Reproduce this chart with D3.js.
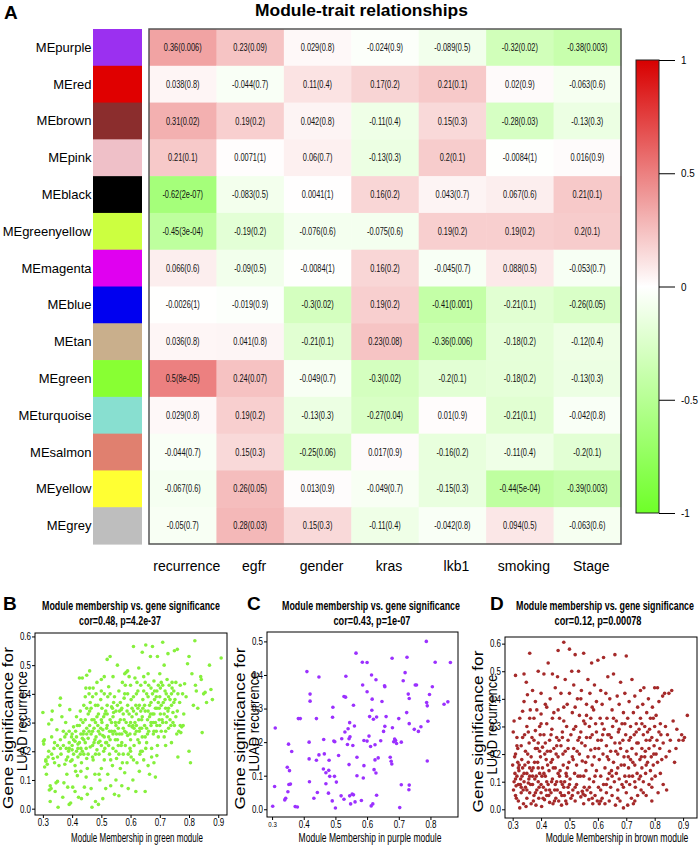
<!DOCTYPE html>
<html><head><meta charset="utf-8">
<script src="https://cdn.jsdelivr.net/npm/d3@7"></script>
<style>body{margin:0;background:#fff}</style>
</head><body>
<svg id="chart" width="700" height="850"></svg>
<script>
// ---------------- DATA ----------------
const modules = ["MEpurple","MEred","MEbrown","MEpink","MEblack","MEgreenyellow","MEmagenta","MEblue","MEtan","MEgreen","MEturquoise","MEsalmon","MEyellow","MEgrey"];
const moduleColors = ["#9B30F0","#E00000","#8B2D2D","#EFC0C8","#000000","#CCFF40","#E000F0","#0000F0","#C9AF8C","#88FF33","#88DFD0","#E0806F","#FFFF33","#BEBEBE"];
const traits = ["recurrence","egfr","gender","kras","lkb1","smoking","Stage"];
const corValues = [
 ["0.36","0.23","0.029","-0.024","-0.089","-0.32","-0.38"],
 ["0.038","-0.044","0.11","0.17","0.21","0.02","-0.063"],
 ["0.31","0.19","0.042","-0.11","0.15","-0.28","-0.13"],
 ["0.21","0.0071","0.06","-0.13","0.2","-0.0084","0.016"],
 ["-0.62","-0.083","0.0041","0.16","0.043","0.067","0.21"],
 ["-0.45","-0.19","-0.076","-0.075","0.19","0.19","0.2"],
 ["0.066","-0.09","-0.0084","0.16","-0.045","0.088","-0.053"],
 ["-0.0026","-0.019","-0.3","0.19","-0.41","-0.21","-0.26"],
 ["0.036","0.041","-0.21","0.23","-0.36","-0.18","-0.12"],
 ["0.5","0.24","-0.049","-0.3","-0.2","-0.18","-0.13"],
 ["0.029","0.19","-0.13","-0.27","0.01","-0.21","-0.042"],
 ["-0.044","0.15","-0.25","0.017","-0.16","-0.11","-0.2"],
 ["-0.067","0.26","0.013","-0.049","-0.15","-0.44","-0.39"],
 ["-0.05","0.28","0.15","-0.11","-0.042","0.094","-0.063"]
];
const pValues = [
 ["0.006","0.09","0.8","0.9","0.5","0.02","0.003"],
 ["0.8","0.7","0.4","0.2","0.1","0.9","0.6"],
 ["0.02","0.2","0.8","0.4","0.3","0.03","0.3"],
 ["0.1","1","0.7","0.3","0.1","1","0.9"],
 ["2e-07","0.5","1","0.2","0.7","0.6","0.1"],
 ["3e-04","0.2","0.6","0.6","0.2","0.2","0.1"],
 ["0.6","0.5","1","0.2","0.7","0.5","0.7"],
 ["1","0.9","0.02","0.2","0.001","0.1","0.05"],
 ["0.8","0.8","0.1","0.08","0.006","0.2","0.4"],
 ["8e-05","0.07","0.7","0.02","0.1","0.2","0.3"],
 ["0.8","0.2","0.3","0.04","0.9","0.1","0.8"],
 ["0.7","0.3","0.06","0.9","0.2","0.4","0.1"],
 ["0.6","0.05","0.9","0.7","0.3","5e-04","0.003"],
 ["0.7","0.03","0.3","0.4","0.8","0.5","0.6"]
];
const colorbarTicks = [-1,-0.5,0,0.5,1];

const xTicksB = [0.3,0.4,0.5,0.6,0.7,0.8,0.9];
const yTicksB = [0,0.1,0.2,0.3,0.4,0.5,0.6];
const xTicksC = [0.3,0.4,0.5,0.6,0.7,0.8];
const yTicksC = [0,0.1,0.2,0.3,0.4,0.5];
const xTicksD = [0.3,0.4,0.5,0.6,0.7,0.8,0.9];
const yTicksD = [0,0.1,0.2,0.3,0.4,0.5,0.6];

const greenModulePoints = [
[.30,.335],[.302,.235],[.303,.225],[.305,.24],[.306,.145],[.31,.165],[.31,.17],[.312,.12],[.315,.155],[.318,.18],[.32,.295],[.322,.065],[.325,.025],[.325,.08],[.328,.07],[.33,.19],[.33,.31],[.332,.34],[.335,.175],[.338,.21],[.34,.23],[.342,.06],[.345,.09],[.348,.275],[.35,.18],[.35,.095],[.352,.005],[.355,.15],[.358,.36],[.36,.385],[.36,.21],[.362,.19],
[.365,.32],[.368,.04],[.37,.27],[.372,.09],[.375,.155],[.375,.25],[.378,.30],[.38,.21],[.382,.12],[.385,.075],[.385,.18],[.388,.20],[.39,.015],[.39,.23],[.392,.345],[.395,.02],[.395,.165],[.398,.25],[.40,.22],[.40,.205],[.402,.075],[.405,.285],[.405,.19],
[.41,.235],[.41,.06],[.412,.27],[.415,.20],[.415,.32],[.418,.115],[.42,.18],[.42,.225],[.422,.04],[.425,.455],[.425,.23],[.428,.34],[.43,.26],[.43,.13],[.432,.035],[.435,.455],[.435,.20],[.437,.30],[.44,.27],[.44,.36],[.442,.075],[.445,.23],[.445,.39],[.447,.42],[.448,.11],[.45,.26],[.45,.175],[.45,.465],[.452,.05],
[.455,.33],[.455,.245],[.458,.40],[.46,.48],[.46,.29],[.462,.215],[.465,.07],[.465,.35],[.468,.005],[.47,.27],[.47,.18],[.472,.42],[.475,.31],[.475,.23],[.478,.12],[.48,.025],[.48,.36],[.482,.25],[.485,.205],[.485,.44],[.488,.29],[.49,.015],[.49,.33],[.492,.19],[.495,.26],[.495,.10],[.498,.38],[.50,.22],[.50,.14],[.50,.45],
[.502,.30],[.505,.035],[.505,.255],[.508,.20],[.51,.40],[.51,.17],[.512,.33],[.515,.07],[.515,.23],[.518,.28],[.52,.52],[.52,.36],[.522,.12],[.525,.25],[.525,.425],[.528,.19],[.53,.53],[.53,.31],[.532,.08],[.535,.27],[.535,.355],[.538,.15],[.54,.21],[.54,.46],[.542,.335],[.545,.05],[.545,.39],[.548,.24],[.55,.10],[.55,.29],
[.552,.175],[.555,.36],[.555,.50],[.558,.22],[.56,.41],[.56,.045],[.562,.26],[.565,.31],[.565,.14],[.568,.345],[.57,.23],[.57,.08],[.572,.44],[.575,.28],[.575,.19],[.578,.385],[.58,.47],[.58,.125],[.582,.22],[.585,.30],[.585,.475],[.588,.16],[.59,.255],[.59,.40],[.592,.07],[.595,.33],[.595,.46],[.598,.21],[.60,.43],[.60,.24],
[.602,.18],[.605,.35],[.605,.285],[.608,.10],[.61,.565],[.61,.39],[.612,.22],[.615,.30],[.615,.455],[.618,.06],[.62,.27],[.62,.33],[.622,.16],[.625,.41],[.625,.24],[.628,.49],[.63,.36],[.63,.13],[.632,.28],[.635,.43],[.635,.20],[.638,.31],[.64,.545],[.64,.25],[.642,.38],[.645,.17],[.645,.46],[.648,.29],[.65,.06],[.65,.34],
[.652,.57],[.655,.40],[.655,.23],[.658,.31],[.66,.15],[.66,.47],[.662,.27],[.665,.36],[.665,.12],[.668,.53],[.67,.29],[.67,.42],[.672,.21],[.675,.565],[.675,.33],[.678,.26],[.68,.445],[.68,.16],[.682,.38],[.685,.30],[.685,.11],[.688,.27],[.69,.185],[.69,.35],[.692,.53],[.695,.43],[.695,.25],[.698,.31],[.70,.39],[.70,.47],
[.702,.33],[.705,.27],[.705,.44],[.71,.58],[.71,.30],[.712,.37],[.715,.25],[.715,.50],[.718,.41],[.72,.22],[.72,.35],[.722,.30],[.725,.45],[.728,.54],[.73,.39],[.73,.28],[.732,.43],[.735,.31],[.74,.36],[.74,.23],[.742,.42],[.745,.335],[.748,.41],[.75,.55],[.75,.29],
[.752,.38],[.755,.44],[.758,.26],[.76,.555],[.76,.34],[.762,.18],[.765,.27],[.768,.37],[.77,.43],[.77,.29],[.772,.265],[.775,.285],[.778,.40],[.78,.29],[.782,.33],[.785,.435],[.79,.39],[.795,.505],[.80,.20],[.80,.53],
[.805,.16],[.81,.47],[.815,.36],[.82,.585],[.822,.43],[.825,.41],[.83,.35],[.84,.46],[.842,.45],[.845,.265],[.85,.40],[.855,.405],[.86,.37],[.87,.50],[.875,.415],[.88,.38],[.91,.525],
[.415,.25],[.425,.29],[.435,.245],[.445,.31],[.455,.19],[.465,.26],[.475,.28],[.485,.32],[.495,.235],[.505,.275],[.515,.34],[.525,.22],[.535,.30],[.545,.27],[.555,.24],[.565,.37],[.575,.33],[.585,.265],[.595,.29],[.605,.32],[.615,.26],[.625,.35],[.635,.34],[.645,.41],[.655,.28],[.665,.32],[.675,.40],[.685,.35],[.695,.37],[.705,.36],[.715,.33],[.725,.32],[.735,.38],[.745,.30],[.755,.32],
[.43,.21],[.44,.19],[.45,.28],[.46,.34],[.47,.22],[.48,.30],[.49,.27],[.50,.31],[.51,.25],[.52,.29],[.53,.24],[.54,.32],[.55,.20],[.56,.30],[.57,.35],[.58,.27],[.59,.36],[.60,.30],[.61,.34],[.62,.29],[.63,.27],[.64,.32],[.65,.44],[.66,.34],[.67,.37],[.68,.27],[.69,.41],[.70,.29],
[.38,.26],[.39,.21],[.40,.17],[.41,.15],[.42,.21],[.43,.31],[.44,.24],[.45,.35],[.46,.42],[.47,.39],[.48,.19],[.49,.23],[.50,.41],[.51,.46],[.52,.33],[.53,.40],[.54,.26],[.55,.34],[.56,.19],[.57,.26],[.58,.40],[.59,.48],[.60,.20],[.61,.17],[.62,.40],[.63,.23],[.64,.20],[.65,.25],[.66,.39],[.67,.30],[.68,.33],[.69,.29],[.71,.43],[.72,.27],[.73,.35],[.74,.40],
[.405,.24],[.418,.29],[.428,.19],[.438,.26],[.448,.21],[.458,.27],[.468,.31],[.478,.24],[.488,.36],[.498,.28],[.508,.32],[.518,.23],[.528,.27],[.538,.35],[.548,.30],[.558,.28],[.568,.22],[.578,.31],[.588,.34],[.598,.26],[.608,.29],[.618,.36],[.628,.31],[.638,.28],[.648,.36],[.658,.26],[.668,.33],[.678,.30],[.688,.39],[.698,.35],[.708,.31],[.718,.38],[.728,.34],[.738,.29],[.748,.37],
[.412,.13],[.432,.16],[.452,.14],[.472,.17],[.492,.12],[.512,.21],[.532,.17],[.552,.26],[.572,.16],[.592,.19],[.612,.28],[.632,.19],[.652,.21],[.672,.18],[.692,.22],
[.462,.37],[.482,.40],[.502,.35],[.522,.39],[.542,.37],[.562,.34],[.582,.43],[.602,.38],[.622,.44],[.642,.35],[.662,.43],[.682,.41],[.702,.42],[.722,.40],[.742,.44],[.762,.40],
[.36,.24],[.37,.22],[.38,.17],[.39,.27],[.40,.26],[.35,.22],[.34,.16],[.33,.25],[.32,.20]
];

const purpleModulePoints = [
[.787,.50],[.565,.465],[.726,.453],[.679,.45],[.585,.438],[.60,.437],[.815,.438],[.863,.437],[.41,.41],[.72,.407],[.614,.40],[.448,.394],[.533,.396],[.628,.386],[.714,.383],[.586,.37],[.655,.368],[.656,.365],[.752,.37],[.756,.37],[.806,.365],[.60,.35],[.73,.343],[.42,.343],[.527,.336],[.532,.334],[.616,.328],[.733,.33],[.797,.342],[.42,.322],[.647,.321],[.557,.31],[.492,.304],[.855,.32],[.843,.313],[.788,.318],[.79,.308],[.725,.288],[.615,.295],[.63,.275],[.608,.276],[.66,.276],[.383,.27],[.389,.27],[.44,.27],[.491,.274],[.62,.268],[.70,.27],[.792,.262],[.31,.242],[.54,.24],[.56,.248],[.68,.243],[.656,.247],[.749,.238],[.733,.255],[.77,.246],[.762,.232],[.545,.258],[.53,.23],[.652,.232],[.417,.20],[.463,.208],[.52,.21],[.543,.21],[.546,.216],[.59,.205],[.606,.218],[.60,.203],[.643,.204],[.687,.209],[.69,.205],[.693,.196],[.684,.201],[.708,.20],[.352,.194],[.495,.203],[.498,.201],[.538,.193],[.555,.19],[.611,.187],[.625,.192],[.362,.172],[.465,.165],[.448,.162],[.51,.16],[.568,.155],[.673,.155],[.635,.153],[.417,.15],[.44,.146],[.48,.146],[.625,.147],[.678,.135],[.79,.144],[.348,.125],[.355,.115],[.462,.12],[.47,.109],[.479,.116],[.543,.133],[.59,.13],[.622,.118],[.628,.108],[.676,.143],[.482,.098],[.497,.098],[.568,.10],[.588,.093],[.47,.076],[.418,.082],[.503,.081],[.308,.068],[.353,.074],[.358,.075],[.35,.052],[.443,.05],[.478,.048],[.708,.073],[.733,.072],[.732,.058],[.343,.033],[.34,.028],[.432,.033],[.518,.04],[.527,.03],[.545,.04],[.553,.045],[.557,.043],[.49,.025],[.582,.026],[.618,.016],[.613,.01],[.63,.042],[.548,.016],[.562,.022],[.302,.009],[.373,.008],[.38,.007],[.50,.004],[.703,.005]
];

const brownModulePoints = [
[.30,.16],[.302,.28],[.305,.32],[.305,.10],[.308,.13],[.31,.485],[.31,.20],[.31,.05],[.312,.085],[.315,.12],[.315,.26],[.318,.17],[.32,.03],[.32,.09],[.322,.14],[.325,.33],[.325,.005],[.328,.11],[.33,.06],[.33,.23],[.332,.18],[.335,.15],[.335,.355],[.338,.02],[.34,.49],[.34,.10],[.342,.27],[.345,.08],[.345,.21],[.348,.46],[.35,.04],[.35,.13],[.35,.30],[.352,.415],[.355,.095],[.355,.17],[.358,.24],[.36,.565],[.36,.06],[.36,.12],[.362,.36],
[.365,.02],[.365,.19],[.368,.26],[.37,.09],[.37,.43],[.372,.15],[.375,.05],[.375,.33],[.378,.11],[.38,.22],[.38,.285],[.382,.015],[.385,.07],[.385,.36],[.388,.17],[.39,.50],[.39,.10],[.39,.24],[.392,.04],[.395,.13],[.395,.30],[.398,.19],[.40,.06],[.40,.345],[.40,.42],
[.402,.01],[.405,.15],[.405,.225],[.408,.08],[.41,.49],[.41,.27],[.412,.035],[.415,.12],[.415,.38],[.418,.18],[.42,.05],[.42,.31],[.422,.21],[.425,.53],[.425,.09],[.428,.14],[.43,.025],[.43,.25],[.432,.40],[.435,.06],[.435,.17],[.438,.29],[.44,.11],[.44,.49],[.442,.02],[.445,.22],[.445,.35],[.448,.07],[.45,.15],[.45,.44],
[.452,.04],[.455,.26],[.455,.10],[.458,.48],[.46,.575],[.46,.19],[.462,.03],[.465,.33],[.465,.12],[.468,.06],[.47,.42],[.47,.23],[.472,.015],[.475,.28],[.475,.09],[.478,.16],[.48,.605],[.48,.37],[.482,.05],[.485,.21],[.485,.47],[.488,.13],[.49,.30],[.49,.02],[.492,.38],[.495,.08],[.495,.25],[.498,.17],[.50,.58],[.50,.42],
[.502,.11],[.505,.27],[.505,.04],[.508,.50],[.51,.19],[.51,.35],[.512,.07],[.515,.22],[.515,.45],[.518,.13],[.52,.56],[.52,.03],[.522,.30],[.525,.16],[.525,.09],[.528,.40],[.53,.25],[.53,.06],[.532,.50],[.535,.20],[.535,.34],[.538,.12],[.54,.045],[.54,.28],[.542,.43],[.545,.065],[.545,.175],[.548,.055],[.55,.565],[.55,.32],
[.552,.08],[.555,.23],[.555,.05],[.558,.14],[.56,.38],[.56,.26],[.562,.07],[.565,.19],[.565,.47],[.568,.035],[.57,.30],[.57,.11],[.572,.42],[.575,.06],[.575,.215],[.578,.53],[.58,.16],[.58,.27],[.582,.02],[.585,.36],[.585,.10],[.588,.45],[.59,.22],[.59,.05],[.592,.31],[.595,.14],[.595,.39],[.598,.03],[.60,.25],[.60,.54],
[.602,.08],[.605,.18],[.605,.02],[.608,.33],[.61,.43],[.61,.12],[.612,.25],[.615,.04],[.615,.38],[.618,.20],[.62,.55],[.62,.09],[.622,.29],[.625,.15],[.625,.02],[.628,.42],[.63,.23],[.63,.06],[.632,.33],[.635,.11],[.635,.48],[.638,.18],[.64,.03],[.64,.27],[.642,.40],[.645,.08],[.645,.21],[.648,.14],[.65,.36],[.65,.05],
[.652,.30],[.655,.17],[.655,.49],[.658,.10],[.66,.56],[.66,.24],[.662,.015],[.665,.32],[.665,.13],[.668,.41],[.67,.07],[.67,.20],[.672,.28],[.675,.11],[.675,.38],[.678,.03],[.68,.46],[.68,.22],[.682,.16],[.685,.31],[.685,.09],[.688,.25],[.69,.005],[.69,.35],[.692,.19],[.695,.12],[.695,.42],[.698,.27],[.70,.555],[.70,.06],
[.702,.21],[.705,.33],[.705,.015],[.708,.15],[.71,.39],[.71,.25],[.712,.09],[.715,.18],[.715,.30],[.718,.04],[.72,.47],[.72,.22],[.722,.12],[.725,.35],[.725,.02],[.728,.27],[.73,.16],[.73,.41],[.732,.08],[.735,.31],[.735,.20],[.738,.13],[.74,.37],[.74,.05],[.742,.24],[.745,.29],[.745,.11],[.748,.18],[.75,.43],[.75,.33],
[.752,.07],[.755,.22],[.755,.15],[.758,.38],[.76,.27],[.76,.10],[.762,.44],[.765,.19],[.765,.30],[.768,.13],[.77,.25],[.77,.05],[.772,.35],[.775,.17],[.778,.40],[.78,.22],[.78,.09],[.782,.29],[.785,.14],[.785,.33],[.788,.19],[.79,.26],[.79,.08],[.792,.37],[.795,.16],[.798,.23],[.80,.30],[.80,.44],
[.802,.12],[.805,.20],[.805,.34],[.808,.25],[.81,.44],[.81,.17],[.812,.06],[.815,.28],[.815,.39],[.818,.22],[.82,.13],[.82,.31],[.822,.27],[.825,.18],[.828,.41],[.83,.24],[.83,.09],[.835,.42],[.838,.30],[.84,.19],[.842,.07],[.845,.27],[.85,.42],[.852,.21],[.855,.25],[.86,.43],[.865,.32],[.87,.17],[.875,.22],[.878,.29],[.885,.25],[.895,.27],[.90,.25],[.905,.26],[.915,.34],
[.303,.07],[.307,.19],[.313,.04],[.318,.22],[.323,.16],[.327,.09],[.333,.12],[.337,.07],[.343,.16],[.347,.01],[.353,.20],[.357,.11],[.363,.09],[.367,.14],[.373,.03],[.377,.17],[.383,.12],[.387,.22],[.393,.08],[.397,.27],[.403,.12],[.407,.04],[.413,.20],[.417,.07],[.423,.16],[.427,.05],[.433,.21],[.437,.10],[.443,.15],[.447,.03],[.453,.20],[.457,.07],[.463,.25],[.467,.14],[.473,.05],[.477,.20],[.483,.10],[.487,.03],[.493,.15],[.497,.06],
[.513,.18],[.527,.21],[.543,.24],[.557,.17],[.573,.26],[.587,.19],[.603,.22],[.617,.27],[.633,.19],[.647,.26],[.663,.21],[.677,.24],[.693,.16],[.707,.19],[.723,.17],[.737,.24],[.753,.19],[.767,.21],[.783,.25],[.797,.20],[.52,.08],[.55,.12],[.58,.04],[.61,.07],[.64,.13],[.67,.04],[.70,.10],[.73,.03],[.76,.06],[.79,.11],
[.31,.11],[.32,.15],[.33,.08],[.34,.13],[.35,.07],[.36,.15],[.37,.12],[.38,.06],[.39,.15],[.40,.09],[.41,.13],[.42,.10],[.43,.07],[.44,.18],[.45,.09],[.46,.13],[.47,.10],[.48,.08],[.49,.12],[.50,.09],
[.315,.23],[.335,.26],[.355,.28],[.375,.25],[.395,.21],[.415,.24],[.435,.27],[.455,.23],[.475,.26],[.495,.22],
[.51,.05],[.53,.12],[.55,.02],[.57,.08],[.59,.12],[.61,.03],[.63,.09],[.65,.12],[.67,.15],[.69,.08],[.71,.12],[.73,.10],[.75,.12],[.77,.16],[.79,.03],
[.515,.29],[.535,.26],[.555,.31],[.575,.33],[.595,.28],[.615,.31],[.635,.27],[.655,.33],[.675,.29],[.695,.31],[.715,.26],[.735,.28],[.755,.31],[.775,.28],[.795,.33],
[.44,.33],[.46,.36],[.48,.32],[.42,.37],[.40,.31],[.38,.39],[.36,.33],[.34,.39],[.52,.37],[.54,.40],[.56,.34],[.58,.37]
];

// ---------------- DRAW ----------------
const SANS = "'Liberation Sans',Arial,Helvetica,sans-serif";
const svg = d3.select("#chart");

// text helper: horizontally condensed/expanded via transform so bounding boxes stay true
function txt(parent, o){
  const g = parent.append("g").attr("transform",`translate(${o.x},${o.y})${o.rot?` rotate(${o.rot})`:""}`);
  const t = g.append("text").attr("text-anchor",o.anchor||"start").attr("font-family",SANS)
    .attr("font-size",o.size).attr("font-weight",o.weight||"normal").attr("fill",o.fill||"#000").text(o.text);
  const w = t.node().getComputedTextLength();
  const sx = o.width ? o.width/w : (o.sx||1);
  if (sx !== 1) t.attr("transform",`scale(${sx},1)`);
  return t;
}
function squeezeAxisText(sel, sx, anchorShift){
  sel.each(function(){
    const t = d3.select(this);
    const x0 = +t.attr("x") || 0;
    t.attr("x",0).attr("transform",`translate(${x0},0) scale(${sx},1)`);
  });
}

// Panel A
const hm = {x0:149, x1:621, y0:29, y1:544, swX0:93, swX1:142};
const xb = d3.scaleBand().domain(traits).range([hm.x0, hm.x1]);
const yb = d3.scaleBand().domain(modules).range([hm.y0, hm.y1]);
const heat = d3.scaleLinear().domain([-1,0,1]).range(["#6EFF28","#ffffff","#D80000"]);

txt(svg,{x:4,y:19,size:19,weight:"bold",text:"A"});
txt(svg,{x:361.5,y:16,size:16.5,weight:"bold",anchor:"middle",width:213,text:"Module-trait relationships"});

// swatches
svg.append("g").selectAll("rect").data(modules).join("rect")
  .attr("x",hm.swX0).attr("width",hm.swX1-hm.swX0)
  .attr("y",d=>yb(d)).attr("height",yb.bandwidth()+0.6)
  .attr("fill",(d,i)=>moduleColors[i]);
svg.append("g").selectAll("text").data(modules).join("text")
  .attr("x",91.5).attr("y",d=>yb(d)+yb.bandwidth()/2+4.5).attr("text-anchor","end")
  .attr("font-family",SANS).attr("font-size",13).text(d=>d);

// cells
const cells = [];
modules.forEach((m,i)=>traits.forEach((t,j)=>cells.push({m,t,c:corValues[i][j],p:pValues[i][j]})));
const gc = svg.append("g");
gc.selectAll("rect").data(cells).join("rect")
  .attr("x",d=>xb(d.t)).attr("y",d=>yb(d.m))
  .attr("width",xb.bandwidth()+0.5).attr("height",yb.bandwidth()+0.5)
  .attr("fill",d=>heat(+d.c));
const gt = svg.append("g");
cells.forEach(d=>txt(gt,{x:xb(d.t)+xb.bandwidth()/2, y:yb(d.m)+yb.bandwidth()/2+3.6, anchor:"middle",
  size:10, sx:0.74, fill:"#111", text:`${d.c}(${d.p})`}));
svg.append("rect").attr("x",hm.x0).attr("y",hm.y0).attr("width",hm.x1-hm.x0).attr("height",hm.y1-hm.y0)
  .attr("fill","none").attr("stroke","#555").attr("stroke-width",1.5);
svg.append("g").selectAll("text").data(traits).join("text")
  .attr("x",d=>xb(d)+xb.bandwidth()/2+4).attr("y",571).attr("text-anchor","middle")
  .attr("font-family",SANS).attr("font-size",14).text(d=>d);

// colorbar
const cb = {x0:636, x1:659, y0:60, y1:513};
const cbScale = d3.scaleLinear().domain([-1,1]).range([cb.y1, cb.y0]);
const grad = svg.append("defs").append("linearGradient").attr("id","cbg")
  .attr("x1",0).attr("y1",1).attr("x2",0).attr("y2",0);
d3.range(-1,1.0001,0.1).forEach(v=>grad.append("stop").attr("offset",(v+1)/2).attr("stop-color",heat(v)));
svg.append("rect").attr("x",cb.x0).attr("y",cb.y0).attr("width",cb.x1-cb.x0).attr("height",cb.y1-cb.y0)
  .attr("fill","url(#cbg)").attr("stroke","#222").attr("stroke-width",1);
const cbAxis = svg.append("g").attr("transform",`translate(${cb.x1},0)`)
  .call(d3.axisRight(cbScale).tickValues(colorbarTicks).tickSize(16).tickPadding(6).tickFormat(d=>String(d)));
cbAxis.select(".domain").remove();
cbAxis.selectAll("text").attr("font-family",SANS).attr("font-size",11.5).attr("fill","#000");
squeezeAxisText(cbAxis.selectAll("text"),0.86);
cbAxis.selectAll("line").attr("stroke","#000");

// Scatter panels
const panels = [
 {letter:"B", letterX:3, pts:greenModulePoints, color:"#86F03C", xlab:"Module Membership in green module",
  cor:"cor=0.48, p=4.2e-37", box:[35,227,633,815], xd:[0.273,0.93], yd:[-0.022,0.612], xt:xTicksB, yt:yTicksB,
  t1x:131, t2x:120, t2len:82, xlx:137, xllen:132},
 {letter:"C", letterX:247, pts:purpleModulePoints, color:"#9B30FF", xlab:"Module Membership in purple module",
  cor:"cor=0.43, p=1e-07", box:[267,458,632,817], xd:[0.284,0.887], yd:[-0.023,0.528], xt:xTicksC, yt:yTicksC,
  t1x:371, t2x:372, t2len:77, xlx:370, xllen:143, smallFirst:true},
 {letter:"D", letterX:490, pts:brownModulePoints, color:"#A52A2A", xlab:"Module Membership in brown module",
  cor:"cor=0.12, p=0.00078", box:[505,697,637,818], xd:[0.273,0.949], yd:[-0.0315,0.624], xt:xTicksD, yt:yTicksD,
  t1x:605, t2x:598, t2len:87, xlx:617, xllen:143}
];

panels.forEach(P=>{
  const [bx0,bx1,by0,by1] = P.box;
  const x = d3.scaleLinear().domain(P.xd).range([bx0,bx1]);
  const y = d3.scaleLinear().domain(P.yd).range([by1,by0]);
  const g = svg.append("g");
  txt(g,{x:P.letterX,y:610,size:19,weight:"bold",text:P.letter});
  txt(g,{x:P.t1x,y:609.5,size:12,weight:"bold",anchor:"middle",width:178,text:"Module membership vs. gene significance"});
  txt(g,{x:P.t2x,y:624.5,size:12,weight:"bold",anchor:"middle",width:P.t2len,text:P.cor});
  // points
  g.append("g").selectAll("circle").data(P.pts).join("circle")
    .attr("cx",d=>x(d[0])).attr("cy",d=>y(d[1])).attr("r",1.8).attr("fill",P.color);
  // box
  g.append("rect").attr("x",bx0).attr("y",by0).attr("width",bx1-bx0).attr("height",by1-by0)
    .attr("fill","none").attr("stroke","#000").attr("stroke-width",1);
  // axes
  const ax = g.append("g").attr("transform",`translate(0,${by1})`)
    .call(d3.axisBottom(x).tickValues(P.xt).tickSize(3).tickPadding(1).tickFormat(d=>d.toFixed(1)));
  ax.select(".domain").remove();
  ax.selectAll("line").attr("stroke","#000");
  ax.selectAll("text").attr("font-family",SANS).attr("font-size",10.5).attr("fill","#000");
  if (P.smallFirst) ax.selectAll("text").filter((d,i)=>i===0).attr("font-size",8);
  squeezeAxisText(ax.selectAll("text"),0.76);
  const ay = g.append("g").attr("transform",`translate(${bx0},0)`)
    .call(d3.axisLeft(y).tickValues(P.yt).tickSize(3).tickPadding(1).tickFormat(d=>d.toFixed(1)));
  ay.select(".domain").remove();
  ay.selectAll("line").attr("stroke","#000");
  ay.selectAll("text").attr("font-family",SANS).attr("font-size",10.5).attr("fill","#000");
  squeezeAxisText(ay.selectAll("text"),0.76);
  // axis titles
  const cy = (by0+by1)/2;
  txt(g,{x:bx0-22,y:cy+4,rot:-90,anchor:"middle",size:15.5,width:162,text:"Gene significance for"});
  txt(g,{x:bx0-8,y:cy-3,rot:-90,anchor:"middle",size:15.5,width:100,text:"LUAD recurrence"});
  txt(g,{x:P.xlx,y:842,anchor:"middle",size:12,width:P.xllen,text:P.xlab});
});
</script>
</body></html>
